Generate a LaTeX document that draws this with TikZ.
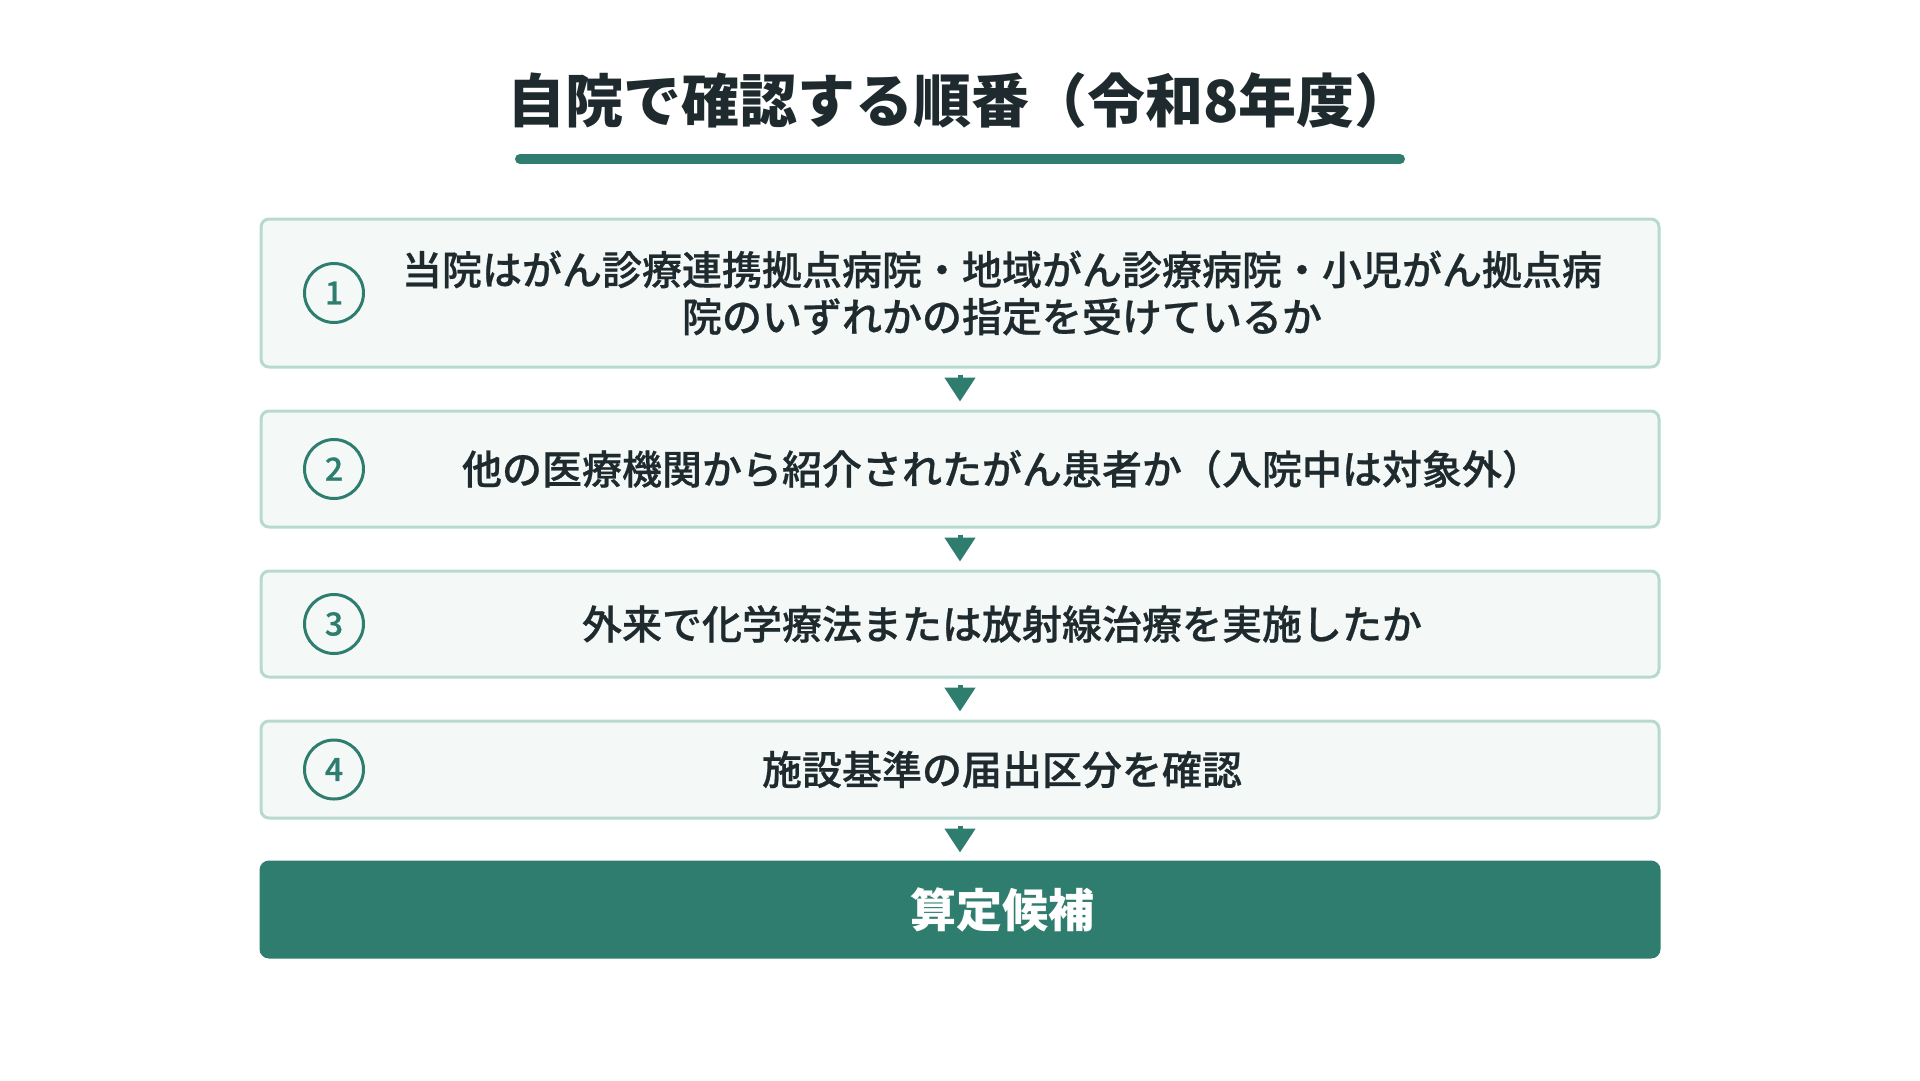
\documentclass[tikz,border=0pt]{standalone}
\usepackage{fontspec}
\setmainfont{Noto Sans CJK JP}
\newfontfamily\medfont{Noto Sans CJK JP Medium}[FakeBold=0.6]
\usetikzlibrary{arrows.meta}
\definecolor{maingreen}{HTML}{2E7D6E}
\definecolor{boxfill}{HTML}{F4F9F8}
\definecolor{boxline}{HTML}{B7D9CF}
\definecolor{inktext}{HTML}{1F2A2E}

\begin{document}
\begin{tikzpicture}[x=1pt, y=-1pt,
    stepbox/.style={draw=boxline, fill=boxfill, line width=3pt, rounded corners=8pt, minimum width=1398pt, inner sep=0pt},
    steptext/.style={text=inktext, font=\fontsize{40}{47}\selectfont\medfont, align=center},
    stepnum/.style={circle, draw=maingreen, line width=3pt, minimum size=59pt, inner sep=0pt, text=maingreen, font=\fontsize{32}{36}\selectfont\medfont},
    flow/.style={maingreen, line width=5pt, -{Triangle[width=30pt,length=24pt]}}]
    \useasboundingbox (0,0) rectangle (1920,1080);

    % title
    \node[text=inktext, font=\fontsize{58}{66}\selectfont\bfseries] (title) at (960,100) {自院で確認する順番（令和8年度）};
    \draw[maingreen, line width=10pt, line cap=round] (520,159) -- (1400,159);

    % boxes
    \node[stepbox, minimum height=148pt] (box1) at (960,293) {};
    \node[stepbox, minimum height=116pt] (box2) at (960,469) {};
    \node[stepbox, minimum height=106pt] (box3) at (960,624) {};
    \node[stepbox, minimum height=97pt] (box4) at (960,769.5) {};
    \node[stepbox, draw=maingreen, fill=maingreen, minimum height=95pt] (result) at (960,909.5) {};

    % numbers
    \node[stepnum] (num1) at (334,293) {1};
    \node[stepnum] (num2) at (334,469) {2};
    \node[stepnum] (num3) at (334,624) {3};
    \node[stepnum] (num4) at (334,769.5) {4};

    % texts
    \node[steptext] (text1) at (1002,293) {当院はがん診療連携拠点病院・地域がん診療病院・小児がん拠点病\\院のいずれかの指定を受けているか};
    \node[steptext] (text2) at (1002,469) {他の医療機関から紹介されたがん患者か（入院中は対象外）};
    \node[steptext] (text3) at (1002,624) {外来で化学療法または放射線治療を実施したか};
    \node[steptext] (text4) at (1002,769.5) {施設基準の届出区分を確認};
    \node[text=white, font=\fontsize{46}{54}\selectfont\bfseries] (resulttext) at (1002,909.5) {算定候補};

    % arrows
    \draw[flow] ([yshift=-6pt]box1.south) -- ([yshift=8pt]box2.north);
    \draw[flow] ([yshift=-6pt]box2.south) -- ([yshift=8pt]box3.north);
    \draw[flow] ([yshift=-6pt]box3.south) -- ([yshift=8pt]box4.north);
    \draw[flow] ([yshift=-6pt]box4.south) -- ([yshift=8pt]result.north);
\end{tikzpicture}
\end{document}
